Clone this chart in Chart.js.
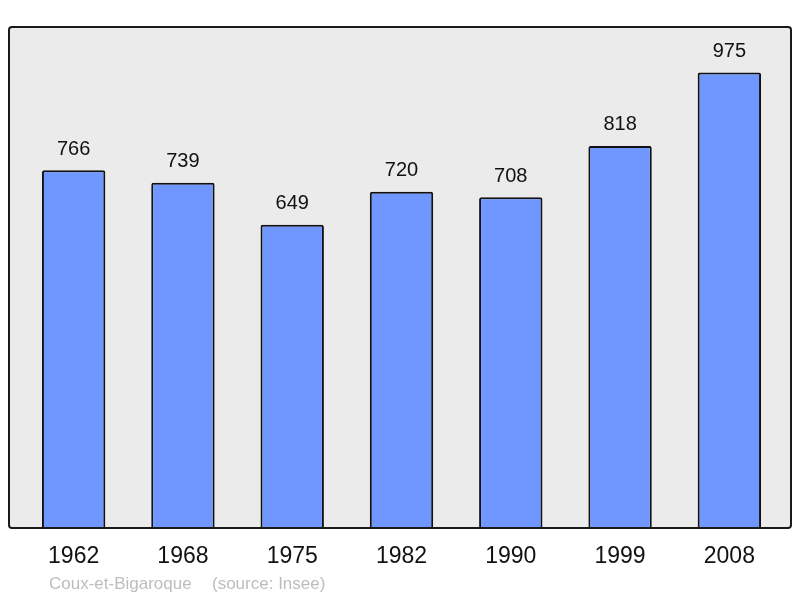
<!DOCTYPE html>
<html>
<head>
<meta charset="utf-8">
<script src="https://cdn.jsdelivr.net/npm/chart.js@4"></script>
<style>
html,body{margin:0;padding:0;background:#fff}
canvas{display:block}
</style>
</head>
<body>
<canvas id="chart" width="800" height="598"></canvas>
<script>
// population by census year
let years=["1962","1968","1975","1982","1990","1999","2008"]
let population=[766,739,649,720,708,818,975]
let yMax=1072.5

let commune="Coux-et-Bigaroque"
let source="(source: Insee)"

// frame + grey background behind bars
let framePlugin={
id:"frame",
beforeDatasetsDraw(chart){
let a=chart.chartArea
let ctx=chart.ctx
let x0=a.left-10,x1=a.right+7,y0=a.top,y1=a.bottom
ctx.save()
ctx.beginPath()
ctx.roundRect(x0,y0,x1-x0,y1-y0,3)
ctx.fillStyle="#ebebeb"
ctx.fill()
ctx.restore()
},
afterDatasetsDraw(chart){
let a=chart.chartArea
let ctx=chart.ctx
let x0=a.left-10,x1=a.right+7,y0=a.top,y1=a.bottom
ctx.save()
ctx.beginPath()
ctx.roundRect(x0,y0,x1-x0,y1-y0,3)
ctx.lineWidth=2
ctx.strokeStyle="#1a1a1a"
ctx.stroke()

// value labels and year labels
let meta=chart.getDatasetMeta(0)
ctx.textAlign="center"
ctx.textBaseline="middle"
ctx.fillStyle="#111"
meta.data.forEach((bar,i)=>{
ctx.font="20px 'Liberation Sans', Arial, sans-serif"
ctx.fillText(population[i],bar.x,bar.y-21)
ctx.font="23px 'Liberation Sans', Arial, sans-serif"
ctx.fillText(years[i],bar.x,557)
})

ctx.font="17px 'Liberation Sans', Arial, sans-serif"
ctx.fillStyle="#bdbdbd"
ctx.textAlign="left"
ctx.fillText(commune,49,584)
ctx.fillText(source,212,584)
ctx.restore()
}
}

new Chart(document.getElementById("chart"),{
type:"bar",
data:{
labels:years,
datasets:[{
data:population,
backgroundColor:"#7097ff",
borderColor:"#111",
borderWidth:2,
borderRadius:2,
borderSkipped:"bottom",
barPercentage:0.58,
categoryPercentage:1
}]
},
options:{
responsive:false,
animation:false,
devicePixelRatio:1,
layout:{padding:{left:19,right:16,top:27,bottom:70}},
plugins:{legend:{display:false},tooltip:{enabled:false}},
scales:{
x:{display:false},
y:{display:false,min:0,max:yMax}
}
},
plugins:[framePlugin]
})
</script>
</body>
</html>
